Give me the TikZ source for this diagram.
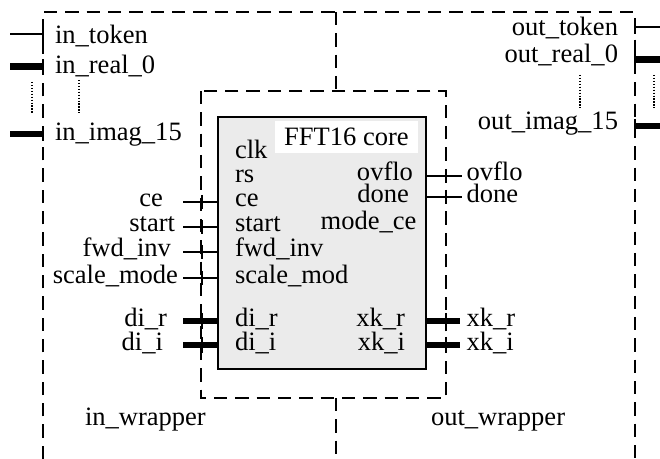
\documentclass[tikz,border=0pt]{standalone}
\usepackage{fontspec}
\setmainfont{Liberation Serif}
\definecolor{coregray}{HTML}{EBEBEB}
\begin{document}
\begin{tikzpicture}[x=0.75pt,y=-0.75pt,
  every node/.style={font=\fontsize{19.9}{24}\selectfont, inner sep=0pt, outer sep=0pt},
  frame/.style={line width=1.5pt, dash pattern=on 10pt off 6pt},
  wire/.style={line width=1.5pt},
  bus/.style={line width=4.6pt},
  dots/.style={line width=1.1pt, dash pattern=on 1pt off 1.2pt},
  lbl/.style={anchor=mid west},
  rlbl/.style={anchor=mid east}]
\useasboundingbox (0,0) rectangle (660,459);

% wrapper outlines
\draw[frame] (43,459) -- (43,12) -- (635,12) -- (635,459);
\draw[frame] (336,12) -- (336,91);
\draw[frame] (336,398) -- (336,459);
\draw[frame, fill=white] (201,91) rectangle (446,398);

% core block
\node[draw, line width=1.8pt, fill=coregray, minimum width=156pt, minimum height=189pt,
      anchor=north west] (core) at (218,117) {};
\node[fill=white, minimum width=107pt, minimum height=24pt] (title) at (346.5,137) {FFT16 core};

% core port names
\node[lbl] (p-clk)   at (235,155)   {clk};
\node[lbl] (p-rs)    at (235,179)   {rs};
\node[lbl] (p-ce)    at (235,203.5) {ce};
\node[lbl] (p-start) at (235,228.5) {start};
\node[lbl] (p-fwd)   at (235,253)   {fwd\_inv};
\node[lbl] (p-scale) at (235,280)   {scale\_mod};
\node[lbl] (p-dir)   at (235,323)   {di\_r};
\node[lbl] (p-dii)   at (235,347)   {di\_i};
\node[rlbl] (p-ovflo) at (413,177)  {ovflo};
\node[rlbl] (p-done)  at (409,199)  {done};
\node[rlbl] (p-mode)  at (416.5,226) {mode\_ce};
\node[rlbl] (p-xkr)   at (405,323)  {xk\_r};
\node[rlbl] (p-xki)   at (405,347)  {xk\_i};

% wire end points
\coordinate (ce-in)    at (183,202);
\coordinate (start-in) at (183,227);
\coordinate (fwd-in)   at (183,252);
\coordinate (scale-in) at (183,278);
\coordinate (dir-in)   at (183,321);
\coordinate (dii-in)   at (183,345);
\coordinate (ovflo-out) at (461.5,176);
\coordinate (done-out)  at (461.5,197);
\coordinate (xkr-out)   at (460,321);
\coordinate (xki-out)   at (460,345);

% core connections with port marks on the inner wrapper
\foreach \c in {ce-in,start-in,fwd-in,scale-in} {
  \draw[wire] (\c) -- (core.west |- \c);
  \draw[wire] (201.5,0 |- \c) ++(0,-7) -- ++(0,14);
}
\foreach \c in {dir-in,dii-in} {
  \draw[bus] (\c) -- (core.west |- \c);
  \draw[wire] (201.5,0 |- \c) ++(0,-8) -- ++(0,16);
}
\foreach \c in {ovflo-out,done-out} {
  \draw[wire] (core.east |- \c) -- (\c);
  \draw[wire] (446,0 |- \c) ++(0,-7) -- ++(0,14);
}
\foreach \c in {xkr-out,xki-out} {
  \draw[bus] (core.east |- \c) -- (\c);
  \draw[wire] (446,0 |- \c) ++(0,-8) -- ++(0,16);
}

% outer signal names
\node[rlbl] (s-ce)    at (163,203.5) {ce};
\node[rlbl] (s-start) at (175,228.5) {start};
\node[rlbl] (s-fwd)   at (171,253)   {fwd\_inv};
\node[rlbl] (s-scale) at (178,280)   {scale\_mode};
\node[rlbl] (s-dir)   at (167,323)   {di\_r};
\node[rlbl] (s-dii)   at (163,347)   {di\_i};
\node[lbl] (s-ovflo)  at (466.5,177) {ovflo};
\node[lbl] (s-done)   at (466.5,199) {done};
\node[lbl] (s-xkr)    at (466.5,323) {xk\_r};
\node[lbl] (s-xki)    at (466.5,347) {xk\_i};

% input wrapper ports
\coordinate (tok-in)   at (10,34);
\coordinate (re-in)    at (10,66.5);
\coordinate (im-in)    at (10,134);
\coordinate (tok-edge) at (43,34);
\coordinate (re-edge)  at (43,66.5);
\coordinate (im-edge)  at (43,134);
\draw[wire] (tok-in) -- (tok-edge);
\draw[bus]  (re-in) -- (re-edge);
\draw[bus]  (im-in) -- (im-edge);
\foreach \c/\h in {tok-edge/6,re-edge/7,im-edge/7}
  \draw[wire] (\c) ++(0,-\h) -- ++(0,2*\h);
\node[lbl] (in-tok) at (55,40)  {in\_token};
\node[lbl] (in-re)  at (55,70)  {in\_real\_0};
\node[lbl] (in-im)  at (55,137) {in\_imag\_15};
\draw[dots] (32,82) -- (32,113);
\draw[dots] (79,80) -- (79,113);

% output wrapper ports
\coordinate (tok-out)   at (660,27.5);
\coordinate (re-out)    at (660,59.5);
\coordinate (im-out)    at (660,126);
\coordinate (tok-oedge) at (634.5,27.5);
\coordinate (re-oedge)  at (634.5,59.5);
\coordinate (im-oedge)  at (634.5,126);
\draw[wire] (tok-oedge) -- (tok-out);
\draw[bus]  (re-oedge) -- (re-out);
\draw[bus]  (im-oedge) -- (im-out);
\foreach \c in {tok-oedge,re-oedge,im-oedge}
  \draw[wire] (\c) ++(0,-7) -- ++(0,14);
\node[rlbl] (out-tok) at (618,32)  {out\_token};
\node[rlbl] (out-re)  at (618,59)  {out\_real\_0};
\node[rlbl] (out-im)  at (618,126) {out\_imag\_15};
\draw[dots] (580,75) -- (580,108);
\draw[dots] (654,75) -- (654,108);

% wrapper names
\node[lbl] (in-wrap)  at (85,422.5)  {in\_wrapper};
\node[lbl] (out-wrap) at (431,422.5) {out\_wrapper};
\end{tikzpicture}
\end{document}
